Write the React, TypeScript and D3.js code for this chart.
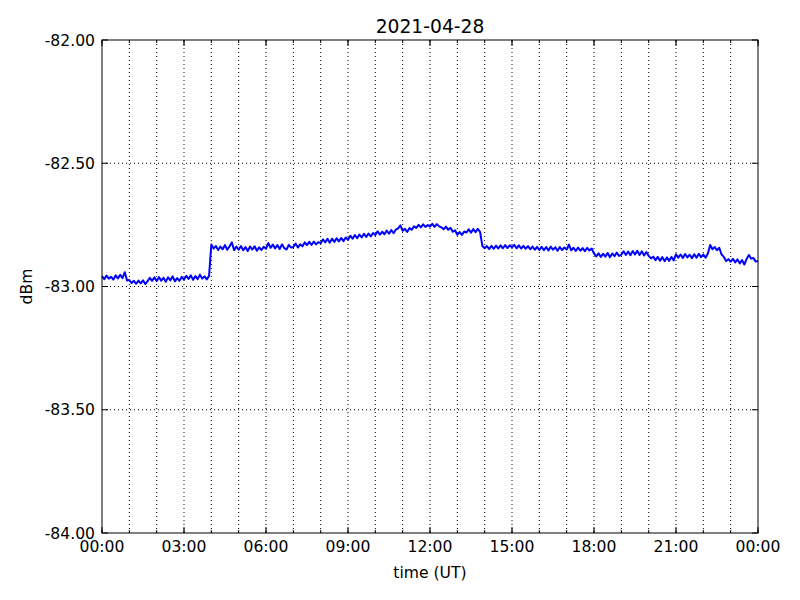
import React from "react";
import * as d3 from "d3";

const TITLE = "2021-04-28";
const X_LABEL = "time (UT)";
const Y_LABEL = "dBm";
const STEP_MINUTES = 5;

// Signal level in dBm, one reading every 5 minutes from 00:00 to 24:00 (one row per hour)
const hour00 = [-82.958, -82.970, -82.956, -82.968, -82.961, -82.972, -82.955, -82.967, -82.953, -82.966, -82.942, -82.976];
const hour01 = [-82.974, -82.986, -82.977, -82.989, -82.976, -82.987, -82.975, -82.990, -82.978, -82.965, -82.977, -82.963];
const hour02 = [-82.978, -82.962, -82.976, -82.965, -82.981, -82.963, -82.975, -82.959, -82.979, -82.966, -82.977, -82.961];
const hour03 = [-82.972, -82.957, -82.969, -82.955, -82.973, -82.958, -82.970, -82.952, -82.968, -82.959, -82.971, -82.957];
const hour04 = [-82.830, -82.846, -82.836, -82.852, -82.838, -82.849, -82.832, -82.851, -82.837, -82.821, -82.853, -82.838];
const hour05 = [-82.851, -82.836, -82.853, -82.840, -82.856, -82.838, -82.850, -82.837, -82.855, -82.841, -82.852, -82.839];
const hour06 = [-82.847, -82.824, -82.843, -82.830, -82.846, -82.832, -82.848, -82.829, -82.844, -82.850, -82.831, -82.842];
const hour07 = [-82.840, -82.826, -82.842, -82.829, -82.837, -82.821, -82.832, -82.819, -82.831, -82.818, -82.829, -82.820];
const hour08 = [-82.824, -82.809, -82.821, -82.807, -82.822, -82.806, -82.819, -82.804, -82.817, -82.803, -82.816, -82.801];
const hour09 = [-82.810, -82.794, -82.806, -82.791, -82.804, -82.789, -82.801, -82.786, -82.799, -82.785, -82.797, -82.783];
const hour10 = [-82.791, -82.776, -82.790, -82.778, -82.788, -82.773, -82.786, -82.771, -82.784, -82.769, -82.764, -82.752];
const hour11 = [-82.774, -82.766, -82.779, -82.763, -82.770, -82.756, -82.762, -82.750, -82.760, -82.748, -82.758, -82.751];
const hour12 = [-82.757, -82.746, -82.758, -82.747, -82.756, -82.760, -82.768, -82.757, -82.770, -82.762, -82.778, -82.772];
const hour13 = [-82.790, -82.779, -82.791, -82.777, -82.781, -82.768, -82.782, -82.767, -82.780, -82.766, -82.779, -82.836];
const hour14 = [-82.845, -82.836, -82.848, -82.835, -82.847, -82.834, -82.846, -82.833, -82.845, -82.832, -82.844, -82.833];
const hour15 = [-82.841, -82.831, -82.845, -82.833, -82.846, -82.835, -82.847, -82.836, -82.849, -82.838, -82.851, -82.839];
const hour16 = [-82.852, -82.839, -82.853, -82.840, -82.854, -82.838, -82.851, -82.841, -82.855, -82.840, -82.852, -82.842];
const hour17 = [-82.850, -82.830, -82.853, -82.843, -82.856, -82.842, -82.855, -82.844, -82.857, -82.843, -82.854, -82.846];
const hour18 = [-82.866, -82.878, -82.865, -82.880, -82.867, -82.879, -82.864, -82.881, -82.866, -82.877, -82.862, -82.876];
const hour19 = [-82.871, -82.857, -82.872, -82.858, -82.873, -82.856, -82.870, -82.855, -82.872, -82.857, -82.874, -82.860];
const hour20 = [-82.876, -82.886, -82.879, -82.893, -82.880, -82.895, -82.881, -82.897, -82.882, -82.896, -82.880, -82.894];
const hour21 = [-82.869, -82.883, -82.870, -82.884, -82.868, -82.882, -82.871, -82.885, -82.869, -82.883, -82.867, -82.881];
const hour22 = [-82.870, -82.883, -82.866, -82.832, -82.849, -82.840, -82.853, -82.843, -82.870, -82.880, -82.897, -82.889];
const hour23 = [-82.899, -82.888, -82.902, -82.890, -82.906, -82.893, -82.911, -82.888, -82.872, -82.887, -82.884, -82.899];
const hour24 = [-82.896];

const levels = [
  ...hour00, ...hour01, ...hour02, ...hour03, ...hour04, ...hour05,
  ...hour06, ...hour07, ...hour08, ...hour09, ...hour10, ...hour11,
  ...hour12, ...hour13, ...hour14, ...hour15, ...hour16, ...hour17,
  ...hour18, ...hour19, ...hour20, ...hour21, ...hour22, ...hour23, ...hour24,
];

const xMajorTicks = [0, 3, 6, 9, 12, 15, 18, 21, 24];
const xTickLabels = ["00:00", "03:00", "06:00", "09:00", "12:00", "15:00", "18:00", "21:00", "00:00"];
const xMinorTicks = d3.range(0, 25, 1);
const yTicks = [-84, -83.5, -83, -82.5, -82];

const W = 800;
const H = 600;
const L = 102;
const R = 758;
const T = 40;
const B = 533;
const FONT = "DejaVu Sans, sans-serif";

export default function App() {
  const x = d3.scaleLinear().domain([0, 24]).range([L, R]);
  const y = d3.scaleLinear().domain([-84, -82]).range([B, T]);
  const pts = levels.map((v, i) => [(i * STEP_MINUTES) / 60, v] as [number, number]);
  const line = d3
    .line<[number, number]>()
    .x((d) => x(d[0]))
    .y((d) => y(d[1]));

  return (
    <svg
      width={W}
      height={H}
      style={{ position: "absolute", left: 0, top: 0, background: "#fff" }}
      fontFamily={FONT}
    >
      <rect x={0} y={0} width={W} height={H} fill="#fff" />
      {/* grid */}
      {xMinorTicks.slice(1, -1).map((t) => (
        <line key={"gx" + t} x1={x(t)} x2={x(t)} y1={T} y2={B} stroke="#000" strokeWidth={1} strokeDasharray="1,3" />
      ))}
      {yTicks.slice(1, -1).map((t) => (
        <line key={"gy" + t} x1={L} x2={R} y1={y(t)} y2={y(t)} stroke="#000" strokeWidth={1} strokeDasharray="1,3" />
      ))}
      {/* data */}
      <path d={line(pts) || ""} fill="none" stroke="#0000ff" strokeWidth={2} strokeLinejoin="round" />
      {/* ticks */}
      {xMinorTicks.map((t) => (
        <g key={"mt" + t}>
          <line x1={x(t)} x2={x(t)} y1={B} y2={B - 3} stroke="#000" />
          <line x1={x(t)} x2={x(t)} y1={T} y2={T + 3} stroke="#000" />
        </g>
      ))}
      {xMajorTicks.map((t) => (
        <g key={"xt" + t}>
          <line x1={x(t)} x2={x(t)} y1={B} y2={B - 6} stroke="#000" />
          <line x1={x(t)} x2={x(t)} y1={T} y2={T + 6} stroke="#000" />
        </g>
      ))}
      {yTicks.map((t) => (
        <g key={"yt" + t}>
          <line x1={L} x2={L + 6} y1={y(t)} y2={y(t)} stroke="#000" />
          <line x1={R} x2={R - 6} y1={y(t)} y2={y(t)} stroke="#000" />
        </g>
      ))}
      {/* frame */}
      <rect x={L} y={T} width={R - L} height={B - T} fill="none" stroke="#000" strokeWidth={1} />
      {/* tick labels */}
      {xMajorTicks.map((t, i) => (
        <text key={"xl" + t} x={x(t)} y={552} textAnchor="middle" fontSize={15.6} fill="#000">
          {xTickLabels[i]}
        </text>
      ))}
      {yTicks.map((t) => (
        <text key={"yl" + t} x={95} y={y(t)} dy="0.36em" textAnchor="end" fontSize={15.6} fill="#000">
          {t.toFixed(2)}
        </text>
      ))}
      <text x={(L + R) / 2} y={33} textAnchor="middle" fontSize={18.7} fill="#000">
        {TITLE}
      </text>
      <text x={(L + R) / 2} y={578} textAnchor="middle" fontSize={15.6} fill="#000">
        {X_LABEL}
      </text>
      <text
        transform={`translate(32, ${(T + B) / 2}) rotate(-90)`}
        textAnchor="middle"
        fontSize={15.6}
        fill="#000"
      >
        {Y_LABEL}
      </text>
    </svg>
  );
}
